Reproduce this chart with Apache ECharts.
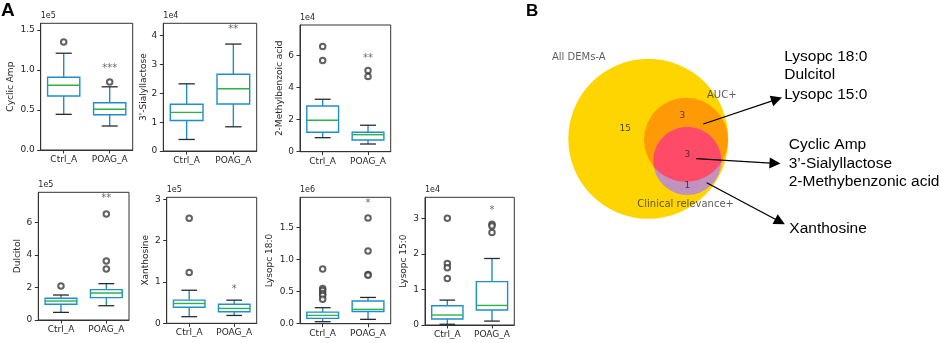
<!DOCTYPE html>
<html><head><meta charset="utf-8">
<script src="https://cdn.jsdelivr.net/npm/echarts@6/dist/echarts.min.js"></script>
<style>html,body{margin:0;padding:0;background:#fff}#c{width:941px;height:343px}</style>
</head><body><div id="c"></div>
<script>
// ---------- DATA ----------
const categories = ['Ctrl_A', 'POAG_A'];
const panelNames = ['Cyclic Amp', "3'-Sialyllactose", '2-Methylbenzoic acid', 'Dulcitol', 'Xanthosine', 'Lysopc 18:0', 'Lysopc 15:0'];
const exponentLabels = ['1e5', '1e4', '1e4', '1e5', '1e5', '1e6', '1e4'];
const yMax = [1.584, 4.43, 7.9, 7.87, 3.05, 1.974, 3.59];
const yTicks = [[0, 0.5, 1, 1.5], [0, 1, 2, 3, 4], [0, 2, 4, 6], [0, 2, 4, 6], [0, 1, 2, 3], [0, 0.5, 1, 1.5], [0, 1, 2, 3]];
const yTickLabels = [['0.0', '0.5', '1.0', '1.5'], ['0', '1', '2', '3', '4'], ['0', '2', '4', '6'], ['0', '2', '4', '6'], ['0', '1', '2', '3'], ['0.0', '0.5', '1.0', '1.5'], ['0', '1', '2', '3']];
// [low whisker, Q1, median, Q3, high whisker]
const ctrlBoxes = [
  [0.446, 0.675, 0.81, 0.91, 1.21],
  [0.40, 1.06, 1.34, 1.62, 2.33],
  [0.875, 1.21, 1.96, 2.85, 3.27],
  [0.47, 0.97, 1.17, 1.34, 1.54],
  [0.16, 0.39, 0.48, 0.56, 0.80],
  [0.031, 0.083, 0.13, 0.18, 0.25],
  [0.02, 0.17, 0.28, 0.54, 0.70]
];
const poagBoxes = [
  [0.30, 0.44, 0.51, 0.59, 0.79],
  [0.84, 1.63, 2.16, 2.66, 3.71],
  [0.48, 0.73, 1.06, 1.21, 1.65],
  [0.88, 1.38, 1.66, 1.87, 2.24],
  [0.19, 0.28, 0.36, 0.46, 0.56],
  [0.068, 0.19, 0.224, 0.354, 0.41],
  [0.11, 0.42, 0.55, 1.22, 1.87]
];
const ctrlOutliers = [[1.35], [], [6.56, 5.69], [2.10], [2.54, 1.23], [0.854, 0.55, 0.52, 0.47, 0.44, 0.38], [3.0, 1.73, 1.61, 1.31]];
const poagOutliers = [[0.85], [], [5.06, 4.69], [6.53, 3.64, 3.14], [], [1.65, 1.135, 0.77, 0.755], [2.83, 2.78, 2.6]];
const starValues = [1.02, 4.21, 5.8, 7.5, 0.81, 1.88, 3.21];
const starLabels = ['***', '**', '**', '**', '*', '*', '*'];

const vennSetNames = ['All DEMs-A', 'AUC+', 'Clinical relevance+'];
const vennCounts = ['15', '3', '3', '1'];
const groupAucOnly = ['Lysopc 18:0', 'Dulcitol', 'Lysopc 15:0'];
const groupBoth = ['Cyclic Amp', '3\u2019-Sialyllactose', '2-Methybenzonic acid'];
const groupClinicalOnly = ['Xanthosine'];

// ---------- LAYOUT ----------
const gridRects = [
  [40.7, 23.3, 132.7, 150], [163.3, 23.3, 256.7, 151], [300, 25, 390.7, 151.7],
  [38.3, 192.3, 129, 320], [166.7, 197.3, 256.7, 323.3], [300, 197.3, 390.7, 323.7], [425, 197.3, 514.3, 325]
];
const nameGaps = [26, 14, 16, 16.5, 16.5, 25.5, 17];
const FONT = 'DejaVu Sans';
const TXT = '#262626';
const BLUE = '#1f8ec9';
const GREEN = '#2bb34a';

const grids = [], xAxes = [], yAxes = [], series = [], graphics = [];

function renderBox(params, api) {
  const x = api.value(0);
  const lo = api.coord([x, api.value(1)]);
  const q1 = api.coord([x, api.value(2)]);
  const md = api.coord([x, api.value(3)]);
  const q3 = api.coord([x, api.value(4)]);
  const hi = api.coord([x, api.value(5)]);
  const band = api.size([1, 0])[0];
  const bw = band * 0.7, cw = bw * 0.5, cx = lo[0];
  return {
    type: 'group', children: [
      { type: 'line', shape: { x1: cx, y1: q3[1], x2: cx, y2: hi[1] }, style: { stroke: BLUE, lineWidth: 1.4 } },
      { type: 'line', shape: { x1: cx, y1: q1[1], x2: cx, y2: lo[1] }, style: { stroke: BLUE, lineWidth: 1.4 } },
      { type: 'line', shape: { x1: cx - cw / 2, y1: hi[1], x2: cx + cw / 2, y2: hi[1] }, style: { stroke: '#2a2a2a', lineWidth: 1.3 } },
      { type: 'line', shape: { x1: cx - cw / 2, y1: lo[1], x2: cx + cw / 2, y2: lo[1] }, style: { stroke: '#2a2a2a', lineWidth: 1.3 } },
      { type: 'rect', shape: { x: cx - bw / 2, y: q3[1], width: bw, height: q1[1] - q3[1] }, style: { fill: 'none', stroke: BLUE, lineWidth: 1.4 } },
      { type: 'line', shape: { x1: cx - bw / 2, y1: md[1], x2: cx + bw / 2, y2: md[1] }, style: { stroke: GREEN, lineWidth: 1.4 } }
    ]
  };
}

for (let i = 0; i < panelNames.length; i++) {
  const r = gridRects[i];
  grids.push({ left: r[0], top: r[1], width: r[2] - r[0], height: r[3] - r[1], show: true, borderColor: '#333', borderWidth: 1, backgroundColor: 'transparent' });
  xAxes.push({
    gridIndex: i, type: 'category', data: categories,
    axisLine: { show: true, lineStyle: { color: '#333', width: 1 } },
    axisTick: { show: true, alignWithLabel: true, interval: 0, length: 3.5, lineStyle: { color: '#333' } },
    axisLabel: { fontFamily: FONT, fontSize: 9, color: TXT, margin: 5, interval: 0 }
  });
  const ticks = yTicks[i], labs = yTickLabels[i];
  yAxes.push({
    gridIndex: i, type: 'value', min: 0, max: yMax[i],
    name: panelNames[i], nameLocation: 'middle', nameRotate: 90, nameGap: nameGaps[i],
    nameTextStyle: { fontFamily: FONT, fontSize: 9, color: TXT },
    axisLine: { show: true, lineStyle: { color: '#333', width: 1 } },
    axisTick: { show: true, length: 3.5, customValues: ticks, lineStyle: { color: '#333' } },
    axisLabel: { fontFamily: FONT, fontSize: 9, color: TXT, margin: 6, customValues: ticks,
      formatter: (v) => { const k = ticks.findIndex(t => Math.abs(t - v) < 1e-9); return k >= 0 ? labs[k] : ''; } },
    splitLine: { show: false }
  });
  series.push({
    type: 'custom', xAxisIndex: i, yAxisIndex: i, renderItem: renderBox,
    encode: { x: 0, y: [1, 2, 3, 4, 5] },
    data: [[0].concat(ctrlBoxes[i]), [1].concat(poagBoxes[i])], z: 2
  });
  const outs = ctrlOutliers[i].map(v => [0, v]).concat(poagOutliers[i].map(v => [1, v]));
  series.push({
    type: 'scatter', xAxisIndex: i, yAxisIndex: i, symbol: 'emptyCircle', symbolSize: 5.5,
    itemStyle: { color: '#3a3a3a', borderWidth: 0.9 }, data: outs, z: 3
  });
  series.push({
    type: 'scatter', xAxisIndex: i, yAxisIndex: i, symbolSize: 0, data: [[1, starValues[i]]],
    label: { show: true, position: 'inside', formatter: starLabels[i], fontFamily: FONT, fontSize: 10, color: '#444' }, z: 4
  });
  graphics.push({ type: 'text', left: r[0], top: r[1] - 11, style: { text: exponentLabels[i], font: '8px "DejaVu Sans"', fill: TXT } });
}

// ---------- VENN (grid whose units equal page pixels) ----------
const vIdx = panelNames.length;
grids.push({ left: 540, top: 30, width: 400, height: 240, show: false });
xAxes.push({ gridIndex: vIdx, type: 'value', min: 540, max: 940, show: false });
yAxes.push({ gridIndex: vIdx, type: 'value', min: 30, max: 270, inverse: true, show: false });

const vennCircles = [[648.3, 138.8, 80], [686, 139.7, 42], [687.3, 161, 34]];
const vennColors = ['#ffd500', '#ff9a06', '#c092bd'];
const lensColor = '#ff4a68';

function lensPoints(c1, c2) {
  const [x1, y1, r1] = c1, [x2, y2, r2] = c2;
  const dx = x2 - x1, dy = y2 - y1, d = Math.hypot(dx, dy);
  const a = (r1 * r1 - r2 * r2 + d * d) / (2 * d);
  const h = Math.sqrt(Math.max(0, r1 * r1 - a * a));
  const mx = x1 + a * dx / d, my = y1 + a * dy / d;
  const P = [[mx + h * dy / d, my - h * dx / d], [mx - h * dy / d, my + h * dx / d]];
  const pts = [];
  function arc(c, from, to, toward) {
    const TAU = Math.PI * 2;
    const a1 = Math.atan2(from[1] - c[1], from[0] - c[0]);
    const a2 = Math.atan2(to[1] - c[1], to[0] - c[0]);
    const ph = Math.atan2(toward[1] - c[1], toward[0] - c[0]);
    const sweep = ((a2 - a1) % TAU + TAU) % TAU;
    const rel = ((ph - a1) % TAU + TAU) % TAU;
    const total = rel < sweep ? sweep : sweep - TAU;
    const n = 60;
    for (let k = 0; k <= n; k++) {
      const t = a1 + total * k / n;
      pts.push([c[0] + c[2] * Math.cos(t), c[1] + c[2] * Math.sin(t)]);
    }
  }
  arc(c1, P[0], P[1], [x2, y2]);
  arc(c2, P[1], P[0], [x1, y1]);
  return pts;
}

series.push({
  type: 'custom', xAxisIndex: vIdx, yAxisIndex: vIdx, z: 1,
  data: vennCircles.map((c, k) => [c[0], c[1], c[2], k]),
  encode: { x: 0, y: 1 },
  renderItem: function (params, api) {
    const k = api.value(3);
    const c = api.coord([api.value(0), api.value(1)]);
    const rr = api.size([api.value(2), 0])[0];
    return { type: 'circle', shape: { cx: c[0], cy: c[1], r: rr }, style: { fill: vennColors[k] } };
  }
});
series.push({
  type: 'custom', xAxisIndex: vIdx, yAxisIndex: vIdx, z: 2,
  data: [[vennCircles[1][0], vennCircles[1][1]]], encode: { x: 0, y: 1 },
  renderItem: function (params, api) {
    const pts = lensPoints(vennCircles[1], vennCircles[2]).map(p => api.coord(p));
    return { type: 'polygon', shape: { points: pts }, style: { fill: lensColor } };
  }
});

const countPos = [[625.3, 128.3], [682.3, 115.7], [687.3, 154.3], [687.3, 186]];
series.push({
  type: 'scatter', xAxisIndex: vIdx, yAxisIndex: vIdx, symbolSize: 0, z: 5,
  data: countPos.map((p, k) => ({ value: p, label: { formatter: vennCounts[k] } })),
  label: { show: true, position: 'inside', fontFamily: FONT, fontSize: 9, color: '#222' }
});

const setLabelPos = [[552, 57.3], [707, 95], [637.3, 204.3]];
series.push({
  type: 'scatter', xAxisIndex: vIdx, yAxisIndex: vIdx, symbolSize: 0, z: 5,
  data: setLabelPos.map((p, k) => ({ value: p, label: { formatter: vennSetNames[k] } })),
  label: { show: true, position: [0, 0], align: 'left', verticalAlign: 'middle', fontFamily: FONT, fontSize: 10, color: '#333' }
});

const arrows = [[[703.3, 124], [776.7, 99.3]], [[696, 158.7], [775, 163.3]], [[706.7, 182.7], [780, 221.7]]];
series.push({
  type: 'lines', coordinateSystem: 'cartesian2d', xAxisIndex: vIdx, yAxisIndex: vIdx, z: 6,
  symbol: ['none', 'triangle'], symbolSize: [9, 11],
  lineStyle: { color: '#000', width: 1.3, opacity: 1 },
  data: arrows.map(a => ({ coords: a }))
});

const RF = '15.5px "Liberation Sans", Arial, sans-serif';
function addGroup(names, x, ys) {
  names.forEach((t, k) => graphics.push({ type: 'text', left: x, top: ys[k] - 9, style: { text: t, font: RF, fill: '#000' } }));
}
addGroup(groupAucOnly, 784.3, [57.3, 76, 95.7]);
addGroup(groupBoth, 788.7, [145.7, 164.3, 182.7]);
addGroup(groupClinicalOnly, 789.3, [229.3]);

graphics.push({ type: 'text', left: 1, top: 1, style: { text: 'A', font: 'bold 19px "Liberation Sans", Arial', fill: '#000' } });
graphics.push({ type: 'text', left: 526, top: 3, style: { text: 'B', font: 'bold 17px "Liberation Sans", Arial', fill: '#000' } });

const chart = echarts.init(document.getElementById('c'), null, { renderer: 'canvas' });
chart.setOption({ animation: false, backgroundColor: '#fff', grid: grids, xAxis: xAxes, yAxis: yAxes, series: series, graphic: graphics });
</script></body></html>
